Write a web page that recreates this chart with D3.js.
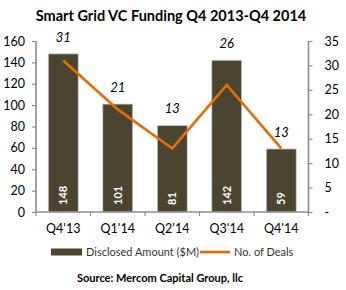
<!DOCTYPE html>
<html>
<head>
<meta charset="utf-8">
<script src="https://cdn.jsdelivr.net/npm/d3@7"></script>
<style>
  body { margin: 0; background: #fff; }
  text { font-family: Lato, "Open Sans", sans-serif; }
</style>
</head>
<body>
<svg id="chart" width="346" height="290"></svg>
<script>
// chart values
const quarters = ["Q4'13", "Q1'14", "Q2'14", "Q3'14", "Q4'14"];
const amounts = [148, 101, 81, 142, 59];   // disclosed amount ($M)
const deals = [31, 21, 13, 26, 13];        // no. of deals
const leftTicks = [0, 20, 40, 60, 80, 100, 120, 140, 160];
const rightTicks = [0, 5, 10, 15, 20, 25, 30, 35];

const svg = d3.select("#chart");
const barColor = "#4a4430";
const lineColor = "#e46c0a";
const axisColor = "#8c8c8c";

// scales
let x = d3.scaleBand()
  .domain(quarters)
  .range([36, 308.5])
  .paddingInner(0.45)
  .paddingOuter(0.225);

let yLeft = d3.scaleLinear().domain([0, 160]).range([212, 41]);
let yRight = d3.scaleLinear().domain([0, 35]).range([212, 41]);

// title
svg.append("text")
  .attr("x", 171).attr("y", 21)
  .attr("text-anchor", "middle")
  .style("font-size", "14.5px").style("font-weight", "bold")
  .text("Smart Grid VC Funding Q4 2013-Q4 2014");

// bars
svg.selectAll("rect.bar")
  .data(quarters)
  .join("rect")
    .attr("class", "bar")
    .attr("x", d => x(d))
    .attr("y", (d, i) => yLeft(amounts[i]))
    .attr("width", x.bandwidth())
    .attr("height", (d, i) => yLeft(0) - yLeft(amounts[i]))
    .attr("fill", barColor)
    .attr("stroke", "#d0d0d0")
    .attr("stroke-width", 0.8);

// amount labels inside the bars
svg.selectAll("text.amt")
  .data(quarters)
  .join("text")
    .attr("class", "amt")
    .attr("transform", d => `translate(${x(d) + x.bandwidth() / 2 + 4},${yLeft(0) - 7}) rotate(-90)`)
    .attr("fill", "#fff")
    .style("font-size", "11px").style("font-weight", "bold")
    .text((d, i) => amounts[i]);

// axes
const axL = svg.append("g")
  .attr("transform", "translate(36,0)")
  .call(d3.axisLeft(yLeft).tickValues(leftTicks).tickSize(4).tickPadding(7));

const axR = svg.append("g")
  .attr("transform", "translate(308.5,0)")
  .call(d3.axisRight(yRight).tickValues(rightTicks).tickSize(4).tickPadding(12)
    .tickFormat(d => d === 0 ? "-" : d));

// x axis with ticks between categories
const axX = svg.append("g")
  .attr("transform", "translate(0,212)");
axX.append("line")
  .attr("x1", 36).attr("x2", 308.5)
  .attr("stroke", axisColor).attr("stroke-width", 1.6);
axX.selectAll("line.tk")
  .data(d3.range(quarters.length + 1))
  .join("line")
    .attr("class", "tk")
    .attr("x1", i => 36 + i * x.step()).attr("x2", i => 36 + i * x.step())
    .attr("y1", 0).attr("y2", 4)
    .attr("stroke", axisColor).attr("stroke-width", 1.2);
axX.selectAll("text")
  .data(quarters)
  .join("text")
    .attr("x", d => x(d) + x.bandwidth() / 2)
    .attr("y", 21)
    .attr("text-anchor", "middle")
    .style("font-size", "12.5px")
    .text(d => d);

[axL, axR].forEach(g => {
  g.select(".domain").attr("stroke", axisColor).attr("stroke-width", 1.6);
  g.selectAll(".tick line").attr("stroke", axisColor).attr("stroke-width", 1.2);
  g.selectAll(".tick text").style("font-size", "12.5px").attr("fill", "#000")
    .style("font-family", "Lato, sans-serif");
});
axL.select(".domain").attr("d", "M0,41V212");
axR.select(".domain").attr("d", "M0,41V212");

// deals line
const line = d3.line()
  .x((d, i) => x(quarters[i]) + x.bandwidth() / 2)
  .y(d => yRight(d));

svg.append("path")
  .datum(deals)
  .attr("d", line)
  .attr("fill", "none")
  .attr("stroke", lineColor)
  .attr("stroke-width", 2.7);

// deal labels above the bars
svg.selectAll("text.deal")
  .data(quarters)
  .join("text")
    .attr("class", "deal")
    .attr("x", d => x(d) + x.bandwidth() / 2)
    .attr("y", (d, i) => yLeft(amounts[i]) - 12)
    .attr("text-anchor", "middle")
    .style("font-size", "13px").style("font-style", "italic")
    .text((d, i) => deals[i]);

// legend
const leg = svg.append("g").attr("transform", "translate(0,252)");
leg.append("rect")
  .attr("x", 51).attr("y", -3.5).attr("width", 31).attr("height", 7)
  .attr("fill", barColor);
leg.append("text")
  .attr("x", 86).attr("y", 4)
  .style("font-size", "11px").attr("fill", "#333")
  .text("Disclosed Amount ($M)");
leg.append("line")
  .attr("x1", 200).attr("x2", 230)
  .attr("stroke", lineColor).attr("stroke-width", 2.7);
leg.append("text")
  .attr("x", 234).attr("y", 4)
  .style("font-size", "11px").attr("fill", "#333")
  .text("No. of Deals");

// source
svg.append("text")
  .attr("x", 160).attr("y", 282)
  .attr("text-anchor", "middle")
  .style("font-size", "11px").style("font-weight", "bold")
  .text("Source: Mercom Capital Group, llc");
</script>
</body>
</html>
